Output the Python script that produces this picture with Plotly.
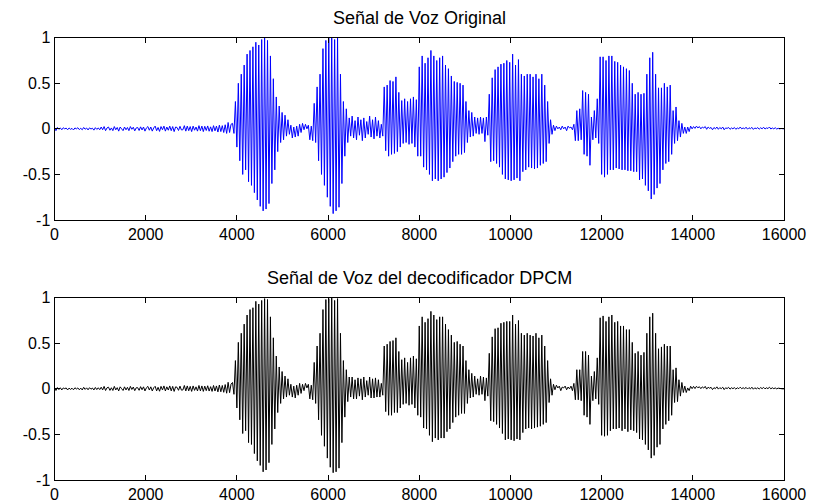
import numpy as np
import plotly.graph_objects as go

sample_step = 32

# Original speech signal: peak / trough values every 32 samples
original = [
    0.01, -0.02, 0.015, -0.005, 0.01, -0.01, 0.012, 0.0, 0.008, -0.01, 0.01, -0.005, 0.005, -0.012, 0.01, 0.0,
    0.012, -0.008, 0.006, -0.01, 0.015, -0.004, 0.009, -0.012, 0.011, -0.002, 0.007, -0.014, 0.013, -0.006, 0.01, -0.01,
    0.02, -0.01, 0.025, -0.02, 0.01, 0.02, -0.015, 0.01, -0.02, 0.025, -0.01, 0.015, -0.025, 0.02, 0.0, -0.02,
    0.02, -0.01, 0.015, -0.02, 0.025, -0.005, 0.018, -0.022, 0.01, 0.015, -0.018, 0.022, -0.012, 0.02, -0.025, 0.01,
    0.025, -0.015, 0.02, -0.025, 0.01, 0.03, -0.02, 0.015, -0.028, 0.025, -0.01, 0.03, -0.025, 0.02, -0.015, 0.03,
    -0.02, 0.025, -0.03, 0.02, 0.015, -0.018, 0.028, -0.012,
    -0.01, 0.035, -0.025, 0.03, -0.02, 0.025, -0.03, 0.03, -0.015, 0.02, -0.025, 0.035, -0.02, 0.03, -0.03, 0.028,
    -0.018, 0.032, -0.026, 0.022, -0.03, 0.035, -0.022, 0.03, -0.035, 0.04,
    -0.03, 0.035, -0.04, 0.045, -0.05, 0.07, -0.04, 0.05,
    0.06, -0.05, 0.3, -0.2, 0.5, -0.35, 0.6, -0.5, 0.7, -0.45, 0.82, -0.58, 0.86, -0.62, 0.9, -0.7,
    0.95, -0.78, 0.92, -0.85, 0.98, -0.9, 1.0, -0.88, 0.97, -0.82, 0.8, -0.6, 0.55, -0.45, 0.35, -0.25,
    0.25, -0.15,
    0.18, -0.12, 0.15, -0.08, 0.1, -0.06, 0.04, -0.1, 0.02, -0.09, 0.03, -0.08, 0.05, -0.04, 0.06, -0.01,
    0.05, 0.0, 0.04, -0.12, 0.03, -0.13,
    0.28, -0.15, 0.46, -0.35, 0.6, -0.5, 0.88, -0.62, 0.97, -0.75, 1.0, -0.85, 1.0, -0.93, 0.98, -0.9,
    1.0, -0.86, 0.6, -0.6, 0.3, -0.3, 0.22, -0.15,
    0.12, -0.08, 0.14, -0.1, 0.09, -0.12, 0.13, -0.07, 0.1, -0.13, 0.12, -0.1, 0.08, -0.06, 0.14, -0.09,
    0.1, -0.11, 0.13, -0.08, 0.09, -0.1, 0.05, -0.08,
    0.46, -0.24, 0.48, -0.3, 0.53, -0.28, 0.52, -0.27, 0.57, -0.25, 0.4, -0.2, 0.31, -0.16, 0.33, -0.15,
    0.3, -0.17, 0.33, -0.16, 0.35, -0.2, 0.32, -0.3,
    0.68, -0.3, 0.8, -0.42, 0.72, -0.45, 0.78, -0.5, 0.86, -0.57, 0.8, -0.55, 0.75, -0.57, 0.78, -0.55,
    0.8, -0.53, 0.7, -0.48, 0.66, -0.43, 0.58, -0.36, 0.52, -0.3, 0.51, -0.28, 0.5, -0.28, 0.48, -0.26,
    0.3, -0.15, 0.2, -0.09, 0.18, -0.08, 0.13, -0.05, 0.12, -0.06, 0.13, -0.05, 0.12, -0.14, 0.13, -0.07,
    0.38, -0.36, 0.56, -0.35, 0.65, -0.38, 0.68, -0.42, 0.71, -0.5, 0.72, -0.55, 0.75, -0.56, 0.73, -0.57,
    0.82, -0.56, 0.7, -0.54, 0.76, -0.57, 0.6, -0.47, 0.58, -0.45, 0.6, -0.42, 0.6, -0.43, 0.57, -0.44,
    0.6, -0.43, 0.55, -0.4, 0.6, -0.38, 0.48, -0.36, 0.3, -0.16, 0.1, -0.06,
    0.04, -0.02, 0.03, 0.0, 0.02, -0.01, 0.03, 0.0, 0.02, -0.02, 0.03, 0.01, 0.02, -0.01, 0.05, -0.13,
    0.2, -0.13, 0.22, -0.12, 0.42, -0.28, 0.4, -0.3, 0.38, -0.4, 0.13, -0.12, 0.2, -0.1, 0.33, -0.16,
    0.79, -0.5, 0.79, -0.53, 0.75, -0.5, 0.8, -0.45, 0.8, -0.45, 0.74, -0.43, 0.73, -0.44, 0.7, -0.45,
    0.68, -0.45, 0.66, -0.46, 0.64, -0.46, 0.5, -0.47, 0.38, -0.47, 0.4, -0.56, 0.38, -0.55, 0.39, -0.62,
    0.6, -0.68, 0.78, -0.77, 0.84, -0.72, 0.6, -0.65, 0.45, -0.6, 0.45, -0.45, 0.5, -0.38, 0.46, -0.36,
    0.48, -0.28, 0.2, -0.16, 0.24, -0.13, 0.09, -0.09, 0.06, -0.05, 0.02, -0.05, 0.02, -0.03,
    0.03, 0.0, 0.025, 0.005, 0.03, 0.01, 0.025, 0.0, 0.02, 0.01, 0.025, -0.005, 0.02, 0.005, 0.015, -0.01,
    0.015, 0.0, 0.02, -0.005, 0.015, 0.0, 0.02, -0.01, 0.01, 0.005, 0.015, -0.005, 0.01, 0.0, 0.015, -0.005,
    0.01, 0.0, 0.02, 0.0, 0.01, 0.0, 0.018, -0.004, 0.012, 0.002, 0.016, -0.006, 0.01, 0.002, 0.014, -0.004,
    0.012, 0.0, 0.018, -0.002, 0.01, 0.004, 0.02, -0.002, 0.01, 0.0, 0.012, -0.002, 0.006, 0.0, 0.004, 0.0,
    0.0,
]

# DPCM decoder output, read the same way
decoded = [
    0.012, -0.018, 0.014, -0.008, 0.012, -0.012, 0.01, 0.002, 0.01, -0.012, 0.008, -0.006, 0.007, -0.01, 0.012, -0.002,
    0.01, -0.01, 0.008, -0.012, 0.017, -0.006, 0.011, -0.01, 0.013, -0.004, 0.009, -0.012, 0.015, -0.008, 0.012, -0.008,
    0.018, -0.012, 0.027, -0.018, 0.012, 0.018, -0.017, 0.012, -0.018, 0.027, -0.012, 0.013, -0.023, 0.022, 0.002, -0.018,
    0.022, -0.012, 0.017, -0.018, 0.027, -0.007, 0.02, -0.02, 0.012, 0.013, -0.016, 0.024, -0.01, 0.022, -0.023, 0.012,
    0.027, -0.013, 0.022, -0.023, 0.012, 0.028, -0.022, 0.017, -0.026, 0.027, -0.012, 0.032, -0.023, 0.022, -0.013, 0.032,
    -0.022, 0.027, -0.028, 0.022, 0.017, -0.016, 0.03, -0.014,
    -0.012, 0.037, -0.023, 0.032, -0.022, 0.027, -0.028, 0.032, -0.017, 0.022, -0.023, 0.037, -0.022, 0.032, -0.028, 0.03,
    -0.02, 0.034, -0.024, 0.024, -0.028, 0.037, -0.024, 0.032, -0.033, 0.042,
    -0.032, 0.037, -0.038, 0.047, -0.048, 0.072, -0.042, 0.052,
    0.07, -0.06, 0.31, -0.21, 0.51, -0.34, 0.61, -0.49, 0.71, -0.46, 0.81, -0.59, 0.87, -0.61, 0.89, -0.71,
    0.96, -0.79, 0.93, -0.84, 0.97, -0.91, 0.99, -0.89, 0.98, -0.81, 0.79, -0.61, 0.56, -0.44, 0.36, -0.26,
    0.24, -0.16,
    0.19, -0.11, 0.14, -0.09, 0.11, -0.07, 0.05, -0.09, 0.03, -0.1, 0.04, -0.07, 0.06, -0.05, 0.05, -0.02,
    0.06, 0.01, 0.05, -0.11, 0.04, -0.12,
    0.29, -0.16, 0.47, -0.34, 0.61, -0.51, 0.87, -0.63, 0.98, -0.76, 0.99, -0.86, 1.0, -0.92, 0.97, -0.91,
    0.99, -0.87, 0.61, -0.59, 0.31, -0.31, 0.21, -0.14,
    0.13, -0.09, 0.13, -0.11, 0.1, -0.11, 0.12, -0.08, 0.11, -0.12, 0.13, -0.09, 0.09, -0.07, 0.13, -0.1,
    0.11, -0.1, 0.12, -0.09, 0.1, -0.09, 0.06, -0.07,
    0.47, -0.25, 0.49, -0.29, 0.52, -0.29, 0.53, -0.26, 0.56, -0.26, 0.41, -0.21, 0.32, -0.17, 0.34, -0.16,
    0.29, -0.18, 0.34, -0.17, 0.36, -0.21, 0.33, -0.29,
    0.69, -0.31, 0.79, -0.43, 0.73, -0.44, 0.77, -0.51, 0.85, -0.58, 0.81, -0.54, 0.76, -0.56, 0.79, -0.54,
    0.79, -0.54, 0.71, -0.47, 0.65, -0.44, 0.59, -0.37, 0.51, -0.31, 0.52, -0.29, 0.49, -0.27, 0.47, -0.27,
    0.31, -0.16, 0.21, -0.1, 0.17, -0.09, 0.14, -0.06, 0.11, -0.07, 0.14, -0.06, 0.13, -0.13, 0.12, -0.08,
    0.39, -0.35, 0.57, -0.36, 0.66, -0.39, 0.67, -0.43, 0.72, -0.49, 0.73, -0.56, 0.74, -0.55, 0.74, -0.56,
    0.81, -0.57, 0.71, -0.55, 0.75, -0.56, 0.61, -0.48, 0.59, -0.44, 0.61, -0.43, 0.59, -0.44, 0.58, -0.43,
    0.61, -0.42, 0.56, -0.41, 0.59, -0.39, 0.47, -0.37, 0.31, -0.15, 0.11, -0.07,
    0.05, -0.01, 0.04, 0.01, 0.03, -0.02, 0.02, 0.01, 0.03, -0.01, 0.02, 0.0, 0.03, -0.02, 0.06, -0.12,
    0.21, -0.12, 0.21, -0.13, 0.41, -0.29, 0.41, -0.31, 0.37, -0.39, 0.14, -0.13, 0.19, -0.11, 0.34, -0.17,
    0.78, -0.51, 0.8, -0.52, 0.74, -0.51, 0.79, -0.46, 0.81, -0.44, 0.73, -0.44, 0.74, -0.43, 0.69, -0.46,
    0.69, -0.44, 0.65, -0.47, 0.65, -0.45, 0.51, -0.46, 0.39, -0.48, 0.41, -0.55, 0.37, -0.56, 0.4, -0.61,
    0.61, -0.67, 0.79, -0.76, 0.83, -0.73, 0.61, -0.64, 0.44, -0.61, 0.46, -0.44, 0.49, -0.39, 0.47, -0.35,
    0.47, -0.29, 0.21, -0.15, 0.23, -0.14, 0.1, -0.08, 0.07, -0.04, 0.03, -0.04, 0.01, -0.02,
    0.028, 0.002, 0.027, 0.003, 0.028, 0.012, 0.023, 0.002, 0.022, 0.008, 0.027, -0.003, 0.018, 0.007, 0.017, -0.008,
    0.013, 0.002, 0.022, -0.003, 0.013, 0.002, 0.018, -0.008, 0.012, 0.003, 0.017, -0.003, 0.012, 0.002, 0.013, -0.003,
    0.012, 0.002, 0.018, 0.002, 0.012, 0.002, 0.016, -0.002, 0.014, 0.0, 0.018, -0.004, 0.012, 0.0, 0.012, -0.002,
    0.014, 0.002, 0.016, 0.0, 0.012, 0.002, 0.018, 0.0, 0.012, 0.002, 0.01, 0.0, 0.008, 0.002, 0.002, 0.0,
    0.0,
]

titles = ["Señal de Voz Original", "Señal de Voz del decodificador DPCM"]
x_ticks = [0, 2000, 4000, 6000, 8000, 10000, 12000, 14000, 16000]
x_ticktext = ["0", "2000", "4000", "6000", "8000", "10000", "12000", "14000", "16000"]
y_ticks = [-1, -0.5, 0, 0.5, 1]
y_ticktext = ["-1", "-0.5", "0", "0.5", "1"]

n_orig = np.arange(len(original)) * sample_step
n_dec = np.arange(len(decoded)) * sample_step

W, H = 815, 502
FONT = "Liberation Sans, Arial, sans-serif"

fig = go.Figure()
fig.add_trace(go.Scatter(x=n_orig, y=original, mode="lines",
                         line=dict(color="#0000ff", width=1), xaxis="x", yaxis="y", showlegend=False))
fig.add_trace(go.Scatter(x=n_dec, y=decoded, mode="lines",
                         line=dict(color="#000000", width=1), xaxis="x2", yaxis="y2", showlegend=False))

xdom = [54.5 / W, 784 / W]
ydom_top = [(H - 220) / H, (H - 37.7) / H]
ydom_bot = [(H - 480) / H, (H - 297.7) / H]

axis_common = dict(showline=True, linecolor="black", linewidth=1, mirror="ticks",
                   ticks="inside", ticklen=5, tickcolor="black", showgrid=False, zeroline=False,
                   automargin=False, tickfont=dict(family=FONT, size=16, color="black"))

fig.update_layout(
    width=W, height=H, margin=dict(l=0, r=0, t=0, b=0, autoexpand=False),
    paper_bgcolor="white", plot_bgcolor="white",
    xaxis=dict(domain=xdom, anchor="y", range=[0, 16000], tickvals=x_ticks, ticktext=x_ticktext, **axis_common),
    yaxis=dict(domain=ydom_top, anchor="x", range=[-1, 1], tickvals=y_ticks, ticktext=y_ticktext, **axis_common),
    xaxis2=dict(domain=xdom, anchor="y2", range=[0, 16000], tickvals=x_ticks, ticktext=x_ticktext, **axis_common),
    yaxis2=dict(domain=ydom_bot, anchor="x2", range=[-1, 1], tickvals=y_ticks, ticktext=y_ticktext, **axis_common),
    annotations=[
        dict(text=titles[0], x=(xdom[0] + xdom[1]) / 2, y=(H - 18) / H, xref="paper", yref="paper",
             showarrow=False, font=dict(family=FONT, size=18, color="black"), yanchor="middle"),
        dict(text=titles[1], x=(xdom[0] + xdom[1]) / 2, y=(H - 278) / H, xref="paper", yref="paper",
             showarrow=False, font=dict(family=FONT, size=18, color="black"), yanchor="middle"),
    ],
)

fig.write_html("out.html", config={"displayModeBar": False},
               post_script="document.body.style.margin='0';document.body.style.overflow='hidden';")
